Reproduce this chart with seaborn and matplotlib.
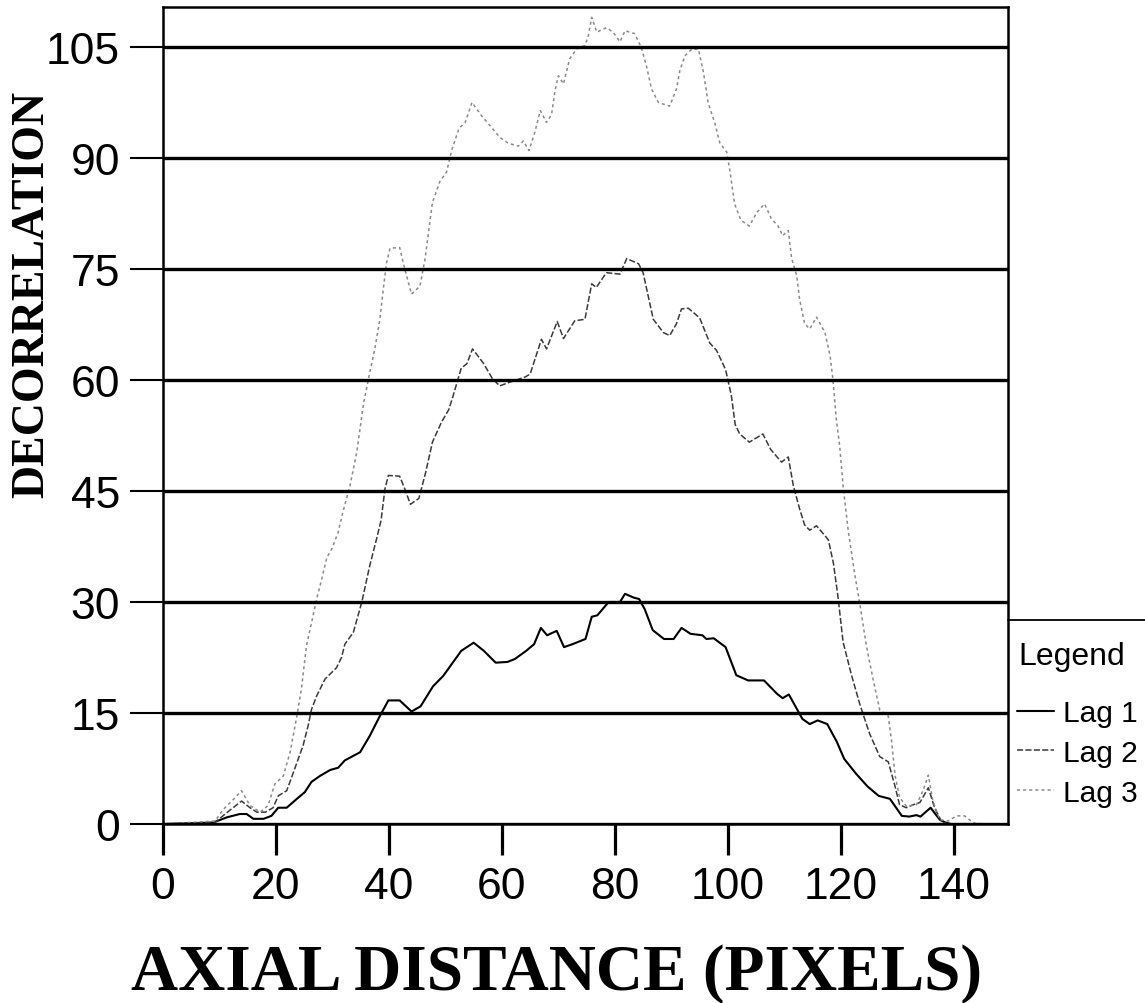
"""
Decorrelation vs axial distance for three lags
"""
import matplotlib
matplotlib.use("Agg")
import matplotlib.pyplot as plt
import seaborn as sns
from matplotlib.lines import Line2D

# Lag 1 (solid)
lag1_x = [0, 8.9, 11.3, 13.6, 14.8, 16, 17.8, 19.2, 20.4, 21.9, 23.7, 25.1, 26.3, 27.8, 29.6,
          31.0, 32.2, 34.9, 36.6, 38.4, 39.9, 41.9, 44.0, 45.6, 47.8, 49.6, 52.8, 55.0, 56.8,
          58.9, 61.0, 62.3, 64.3, 65.7, 66.9, 68.0, 69.7, 71.0, 72.5, 74.8, 75.9, 76.9, 78.9,
          80.9, 81.8, 83.3, 84.3, 85.3, 86.7, 88.7, 90.4, 91.8, 93.4, 95.5, 96.2, 97.5, 99.6,
          101.5, 103.6, 106.4, 108.7, 109.7, 110.8, 113.2, 114.5, 115.9, 117.6, 119.3, 120.6,
          122.7, 124.7, 126.7, 128.7, 130.8, 132.1, 133.4, 134.1, 135.9, 137.5, 138.5, 139.5, 145]
lag1_y = [0, 0.2, 0.9, 1.35, 1.35, 0.7, 0.7, 1.1, 2.2, 2.2, 3.4, 4.3, 5.7, 6.5, 7.3,
          7.6, 8.6, 9.7, 11.9, 14.6, 16.7, 16.7, 15.2, 15.9, 18.6, 20.0, 23.4, 24.5, 23.4,
          21.8, 21.9, 22.3, 23.4, 24.3, 26.5, 25.5, 26.1, 23.9, 24.3, 25.0, 28.0, 28.2, 30.0,
          30.0, 31.1, 30.6, 30.4, 29.0, 26.2, 25.0, 25.0, 26.5, 25.7, 25.5, 25.0, 25.1, 23.9,
          20.1, 19.4, 19.4, 17.6, 17.0, 17.5, 14.2, 13.5, 14.0, 13.5, 11.1, 8.8,
          6.8, 5.1, 3.8, 3.4, 1.1, 1.0, 1.2, 1.0, 2.2, 0.6, 0.2, 0, 0]

# Lag 2 (dashed)
lag2_x = [0, 9.2, 11.0, 13.9, 15.4, 16.6, 18.1, 19.5, 20.4, 21.9, 23.1, 24.8, 25.7, 26.3, 27.2,
          28.7, 30.7, 31.6, 32.2, 33.7, 35.2, 36.6, 37.8, 38.6, 39.3, 39.9, 41.9, 42.8, 43.8,
          45.3, 46.5, 47.7, 49.3, 50.6, 51.3, 52.8, 53.8, 54.8, 56.7, 58.3, 59.6, 61.4, 64.1,
          65.0, 67.0, 67.9, 69.8, 70.9, 72.9, 74.7, 75.9, 76.7, 78.5, 80.9, 82.1, 84.2, 85.0,
          86.8, 88.6, 89.7, 90.9, 91.8, 93.0, 95.0, 96.8, 98.0, 99.6, 100.6, 101.3, 102.1,
          103.8, 106.2, 107.6, 109.5, 110.7, 111.6, 112.7, 113.6, 114.5, 115.7, 117.8, 118.7,
          119.5, 120.4, 121.9, 123.4, 125.1, 126.9, 128.4, 129.6, 130.4, 131.6, 132.8, 134.0,
          135.5, 136.6, 137.8, 139, 145]
lag2_y = [0, 0.2, 1.35, 3.1, 2.2, 1.6, 1.6, 2.2, 3.8, 4.5, 7.0, 10.6, 13.3, 15.5, 17.3,
          19.6, 21.1, 22.5, 24.3, 25.9, 30.0, 34.9, 38.5, 41.0, 45.3, 47.1, 47.0, 45.3, 43.2,
          44.0, 47.5, 51.6, 54.3, 56.0, 57.7, 61.6, 62.2, 64.2, 62.3, 60.2, 59.2, 59.7, 60.4,
          60.8, 65.5, 64.2, 67.9, 65.6, 68.0, 68.2, 73.0, 72.5, 74.5, 74.3, 76.4, 75.7, 74.5,
          68.2, 66.4, 66.0, 67.6, 69.6, 69.7, 68.4, 65.0, 64.0, 61.4, 58.0, 54.0, 52.7,
          51.6, 52.7, 50.6, 48.9, 49.6, 45.7, 42.6, 40.4, 39.7, 40.3, 38.4, 35.2,
          30.7, 24.6, 20.1, 16.1, 12.2, 9.1, 8.4, 5.1, 2.6, 2.2, 2.6, 2.9,
          4.9, 2.2, 0.4, 0, 0]

# Lag 3 (dotted)
lag3_x = [0, 9.2, 10.7, 12.2, 13.9, 15.4, 17.2, 18.6, 19.8, 21.3, 22.5, 23.7, 24.5, 25.4, 26.3,
          27.2, 28.1, 29.0, 29.9, 31.0, 31.8, 33.1, 34.3, 35.5, 36.6, 37.5, 38.4, 39.0, 39.6,
          40.2, 41.9, 42.8, 44.0, 45.5, 46.4, 47.0, 47.7, 49.0, 50.2, 51.1, 52.4, 53.5, 54.7,
          56.5, 58.2, 59.6, 61.1, 62.9, 63.8, 64.8, 65.8, 66.8, 67.9, 68.8, 69.4, 70.0, 70.9,
          72.0, 73.2, 74.7, 75.3, 75.9, 76.8, 78.5, 79.7, 80.9, 81.8, 83.5, 84.7, 85.6, 86.5,
          87.7, 89.7, 90.9, 91.5, 92.4, 93.6, 94.8, 95.7, 96.5, 97.7, 98.6, 99.8, 100.4, 101.2,
          102.3, 103.8, 105.1, 106.5, 107.7, 108.9, 109.7, 110.7, 111.3, 112.2, 112.7, 113.6,
          114.5, 115.7, 117.2, 118.1, 118.6, 119.2, 119.8, 120.4, 121.3, 122.5, 123.4, 124.5,
          125.7, 126.9, 128.4, 129.0, 129.6, 130.4, 131.6, 133.4, 134.6, 135.5, 136.3, 137.5,
          139.0, 140.5, 141.9, 143.1, 144, 145]
lag3_y = [0, 0.4, 2.0, 3.1, 4.5, 2.5, 1.6, 2.5, 5.4, 6.5, 9.7, 14.6, 18.2, 24.1, 27.2,
          30.4, 33.1, 36.0, 37.2, 39.4, 42.0, 45.7, 50.2, 56.8, 61.0, 64.2, 68.2, 72.3, 75.9,
          77.8, 77.9, 75.0, 71.6, 72.7, 76.4, 79.9, 84.0, 86.8, 88.1, 91.0, 94.0, 94.8, 97.5,
          95.6, 94.1, 92.8, 92.0, 91.6, 92.3, 91.0, 93.4, 96.4, 94.8, 95.9, 99.1, 101.1, 100.0,
          103.4, 104.7, 105.2, 106.5, 109.0, 107.0, 107.6, 107.0, 105.7, 107.2, 106.8, 104.9, 102.4, 99.3,
          97.5, 97.0, 99.3, 101.8, 103.8, 104.7, 104.7, 101.5, 97.5, 94.7, 92.0, 90.8, 88.1, 83.8,
          81.6, 80.8, 82.6, 83.8, 81.8, 80.8, 79.5, 80.2, 76.4, 74.1, 70.9, 67.6,
          66.9, 68.5, 66.4, 63.3, 60.1, 54.7, 51.1, 45.7, 39.7, 33.6, 29.6, 24.2,
          19.6, 15.4, 14.6, 11.1, 6.6, 3.6, 2.4, 2.6, 4.6, 6.6, 3.1, 0.6,
          0.4, 1.1, 1.1, 0.4, 0, 0]

series_labels = ["Lag 1", "Lag 2", "Lag 3"]
x_ticks = [0, 20, 40, 60, 80, 100, 120, 140]
y_ticks = [0, 15, 30, 45, 60, 75, 90, 105]

sns.set_style("ticks")
plt.rcParams['font.family'] = ['Liberation Sans', 'DejaVu Sans']
plt.rcParams['text.color'] = 'black'

W, H = 1145, 1004
fig = plt.figure(figsize=(W / 100, H / 100), dpi=100)
ax = fig.add_axes([163 / W, 1 - 825 / H, (1008 - 163) / W, (825 - 8) / H])

styles = [
    (lag1_x, lag1_y, "black", "-", 1.5),
    (lag2_x, lag2_y, "#3a3a3a", (0, (4, 1.5)), 1.1),
    (lag3_x, lag3_y, "#8a8a8a", (0, (2, 2)), 1.1),
]
for (xs, ys, color, ls, lw), label in zip(styles, series_labels):
    sns.lineplot(x=xs, y=ys, ax=ax, color=color, linestyle=ls, linewidth=lw, label=label)

if ax.get_legend() is not None:
    ax.get_legend().remove()
handles = ax.lines[:3]

ax.set_xlim(0, 149.6)
ax.set_ylim(0, 110.4)
ax.set_xticks(x_ticks)
ax.set_yticks(y_ticks)
ax.grid(axis='y', color='black', linewidth=2.4)
ax.grid(axis='x', visible=False)
ax.set_axisbelow(False)
for sp in ax.spines.values():
    sp.set_visible(True)
    sp.set_color('black')
    sp.set_linewidth(1.8)
ax.tick_params(axis='x', direction='out', length=22, width=2.3, labelsize=32, pad=8,
               color='black', labelcolor='black')
ax.tick_params(axis='y', direction='out', length=24, width=1.5, labelsize=32, pad=7,
               color='black', labelcolor='black')
ax.set_xlabel("")
ax.set_ylabel("")

fig.text(557 / W, 1 - 990 / H, "AXIAL DISTANCE (PIXELS)", family='Liberation Serif',
         fontweight='bold', fontsize=47, ha='center', va='baseline', color='black')
fig.text(32 / W, 1 - 294 / H, "DECORRELATION", family='Liberation Serif',
         fontweight='bold', fontsize=33, rotation=90, ha='center', va='center', color='black')

# legend title and entries
fig.text(1018 / W, 1 - 657 / H, "Legend", fontsize=23, ha='left', va='center', color='black')
leg = fig.legend(handles, series_labels, loc='upper left',
                 bbox_to_anchor=(1017 / W, 1 - 700 / H), frameon=False,
                 fontsize=21.5, handlelength=1.25, handletextpad=0.28, labelspacing=0.4,
                 borderaxespad=0, borderpad=0)
for t in leg.get_texts():
    t.set_color('black')
fig.add_artist(Line2D([1008 / W, 1.0], [1 - 621 / H] * 2, color='black', lw=1.3,
                      transform=fig.transFigure))

fig.savefig("out.png", dpi=100)
